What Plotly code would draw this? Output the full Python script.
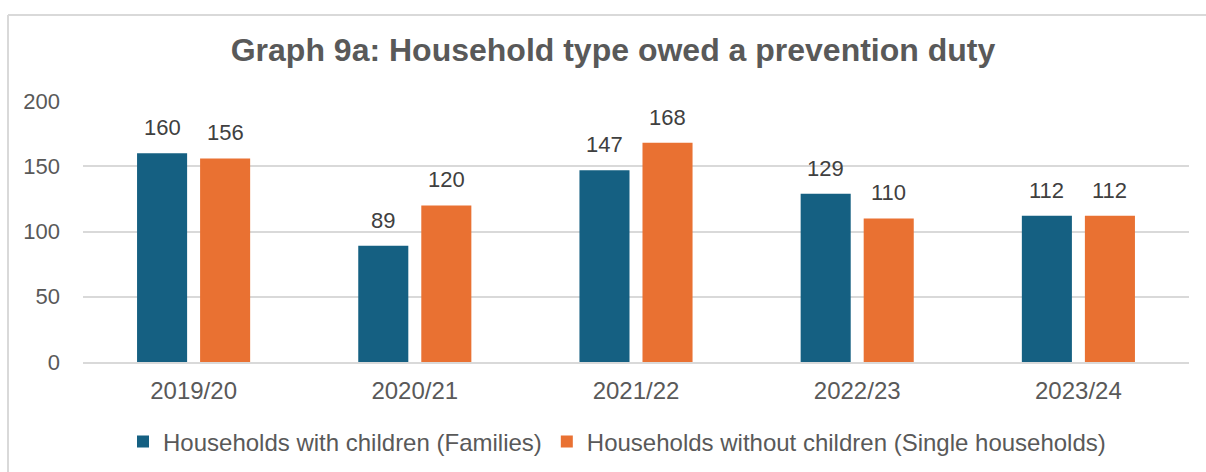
import plotly.graph_objects as go

# Financial years and counts of households owed a prevention duty
years = ["2019/20", "2020/21", "2021/22", "2022/23", "2023/24"]
families = [160, 89, 147, 129, 112]
singles = [156, 120, 168, 110, 112]

series_names = ["Households with children (Families)",
                "Households without children (Single households)"]
series_colors = ["#156082", "#E97132"]

FONT = "Liberation Sans, Arial, sans-serif"
TEXT = "#595959"
GRID = "#D9D9D9"

fig = go.Figure()
for name, vals, col in zip(series_names, [families, singles], series_colors):
    fig.add_trace(go.Bar(
        x=years, y=vals, name=name, marker_color=col,
        marker_line_width=0,
        text=[str(v) for v in vals], textposition="none",
        hoverinfo="x+y+name",
    ))

# value labels above each bar, shifted to the bar's slot within its group
slot_px = 63
for k, vals in enumerate([families, singles]):
    dx = (-0.5 if k == 0 else 0.5) * slot_px
    for yr, v in zip(years, vals):
        fig.add_annotation(
            x=yr, y=v, text=str(v), showarrow=False,
            xanchor="center", yanchor="bottom", xshift=dx, yshift=11,
            font=dict(family=FONT, size=22, color="#404040"),
        )

fig.update_layout(
    width=1206, height=472,
    margin=dict(l=83, r=17, t=101, b=110, autoexpand=False),
    paper_bgcolor="white", plot_bgcolor="white",
    barmode="group", bargap=0.43, bargroupgap=0.206,
    font=dict(family=FONT, size=22, color=TEXT),
    title=dict(
        text="<b>Graph 9a: Household type owed a prevention duty</b>",
        x=613 / 1206, xref="container", xanchor="center",
        y=1 - 50 / 472, yref="container", yanchor="middle",
        font=dict(family=FONT, size=32, color=TEXT),
    ),
    showlegend=True,
    legend=dict(
        orientation="h",
        xref="container", x=617 / 1206, xanchor="center",
        yref="container", y=1 - 442 / 472, yanchor="middle",
        font=dict(family=FONT, size=24, color=TEXT),
        itemwidth=30, traceorder="normal",
    ),
    xaxis=dict(
        showgrid=False, showline=True, linecolor=GRID, linewidth=2,
        ticks="", tickfont=dict(family=FONT, size=24, color=TEXT),
        ticklabelstandoff=6, automargin=False,
    ),
    yaxis=dict(
        range=[0, 200], dtick=50, tick0=0,
        showgrid=True, gridcolor=GRID, gridwidth=1.5,
        zeroline=False, showline=False, ticks="",
        tickfont=dict(family=FONT, size=22, color=TEXT),
        ticklabelstandoff=22, automargin=False,
    ),
)

# light frame around the chart area
fig.add_shape(type="line", xref="paper", yref="paper",
              x0=-0.0678, x1=1.0154, y0=1.3295, y1=1.3295,
              line=dict(color=GRID, width=2))
fig.add_shape(type="line", xref="paper", yref="paper",
              x0=-0.0678, x1=-0.0678, y0=1.3295, y1=-0.43,
              line=dict(color=GRID, width=2))

fig.write_html("out.html")
